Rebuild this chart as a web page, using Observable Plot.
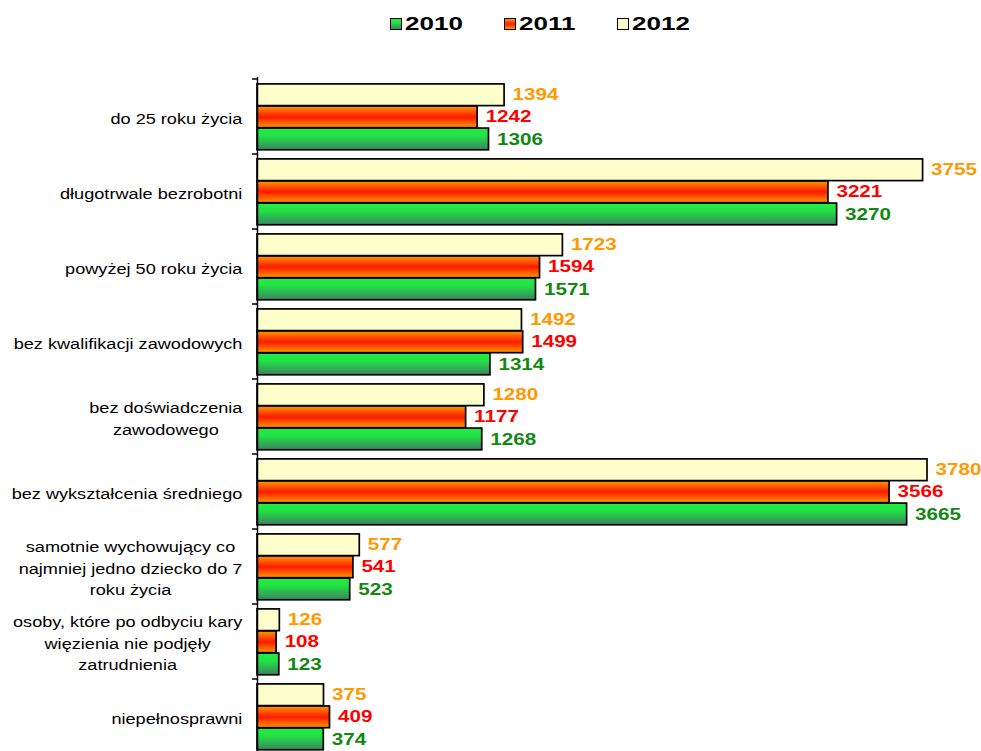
<!DOCTYPE html>
<html><head><meta charset="utf-8">
<script src="https://cdn.jsdelivr.net/npm/d3@7"></script>
<script src="https://cdn.jsdelivr.net/npm/@observablehq/plot@0.6"></script>
<style>
html,body{margin:0;padding:0;background:#fff;overflow:hidden;}
#wrap{position:relative;width:981px;height:751px;}
#legend{position:absolute;top:13px;left:390px;height:22px;display:flex;align-items:center;font-family:"Liberation Sans",Arial,sans-serif;font-weight:bold;font-size:19px;color:#000;}
.item{display:flex;align-items:center;width:113.5px;}
.sw{width:10px;height:10px;border:1.6px solid #000;margin-right:3px;}
.lab{display:inline-block;transform:scaleX(1.37);transform-origin:left center;line-height:22px;}
#chart{position:absolute;top:0;left:0;}
</style></head>
<body>
<svg width="0" height="0" style="position:absolute">
  <defs>
    <linearGradient id="g2010" x1="0" y1="0" x2="0" y2="1">
      <stop offset="0" stop-color="#1ff03f"/>
      <stop offset="0.35" stop-color="#22e244"/>
      <stop offset="1" stop-color="#3b8363"/>
    </linearGradient>
    <linearGradient id="g2011" x1="0" y1="0" x2="0" y2="1">
      <stop offset="0" stop-color="#ff9900"/>
      <stop offset="0.5" stop-color="#ff1a00"/>
      <stop offset="1" stop-color="#ff9900"/>
    </linearGradient>
    <linearGradient id="g2012" x1="0" y1="0" x2="0" y2="1">
      <stop offset="0" stop-color="#ffffcc"/>
      <stop offset="1" stop-color="#ffffcc"/>
    </linearGradient>
  </defs>
</svg>
<div id="wrap">
  <div id="chart"></div>
  <div id="legend"></div>
</div>
<script>
// ---- data ----
const categories = [
  "do 25 roku życia",
  "długotrwale bezrobotni",
  "powyżej 50 roku życia",
  "bez kwalifikacji zawodowych",
  "bez doświadczenia\nzawodowego",
  "bez wykształcenia średniego",
  "samotnie wychowujący co\nnajmniej jedno dziecko do 7\nroku życia",
  "osoby, które po odbyciu kary\nwięzienia nie podjęły\nzatrudnienia",
  "niepełnosprawni"
];
const years = ["2010", "2011", "2012"];
const values2010 = [1306, 3270, 1571, 1314, 1268, 3665, 523, 123, 374];
const values2011 = [1242, 3221, 1594, 1499, 1177, 3566, 541, 108, 409];
const values2012 = [1394, 3755, 1723, 1492, 1280, 3780, 577, 126, 375];

// ---- styles ----
const fills = {"2010": "url(#g2010)", "2011": "url(#g2011)", "2012": "url(#g2012)"};
const swatchCss = {
  "2010": "linear-gradient(#1ff03f,#22e244 35%,#3b8363)",
  "2011": "linear-gradient(#ff9900,#ff1a00 50%,#ff9900)",
  "2012": "#ffffcc"
};
const labelColors = {"2010": "#118811", "2011": "#ff0000", "2012": "#ff9900"};
const order = ["2012", "2011", "2010"]; // top to bottom within a group
const seriesValues = {"2010": values2010, "2011": values2011, "2012": values2012};

const W = 981, H = 756, mt = 77, mb = 0.5, ml = 257, mr = 15;
const bw = (H - mt - mb) / categories.length;
const topPad = 0.065 * bw, barH = 0.293 * bw;

const catFont = 15, catScale = 1.21, valFont = 16, valScale = 1.29;

// measure category label blocks
const ctx = document.createElement("canvas").getContext("2d");
ctx.font = `${catFont}px "Liberation Sans", Arial, sans-serif`;
const blockWidth = c => Math.max(...c.split("\n").map(s => ctx.measureText(s).width)) * catScale;

const marks = [];
order.forEach((yr, k) => {
  const data = categories.map((c, i) => ({cat: c, value: seriesValues[yr][i]}));
  const insetTop = topPad + k * barH;
  const insetBottom = bw - insetTop - barH;
  marks.push(Plot.barX(data, {
    x: "value", y: "cat", fill: fills[yr], stroke: "#000", strokeWidth: 1.7,
    insetTop, insetBottom
  }));
  marks.push(Plot.text(data, {
    x: "value", y: "cat", text: d => String(d.value), textAnchor: "start",
    dx: 8, dy: insetTop + barH / 2 - bw / 2, fill: labelColors[yr],
    fontWeight: "bold", fontSize: valFont, className: "vallab",
    fontFamily: '"Liberation Sans", Arial, sans-serif'
  }));
});
marks.push(Plot.ruleX([0], {stroke: "#000", strokeWidth: 1.5}));
// band-edge ticks on the category axis
marks.push((index, scales) => {
  const y = scales.y, x0 = scales.x(0);
  const g = d3.create("svg:g").attr("stroke", "#000").attr("stroke-width", 1.5);
  const edges = categories.map(c => y(c));
  edges.push(y(categories[categories.length - 1]) + y.bandwidth());
  for (const e of edges) g.append("line").attr("x1", x0 - 5).attr("x2", x0).attr("y1", e).attr("y2", e);
  return g.node();
});
// category labels: lines centred on each other, block right-aligned
categories.forEach(c => {
  marks.push(Plot.text([c], {
    x: 0, y: d => d, text: d => d, textAnchor: "middle",
    dx: -(15 + blockWidth(c) / 2), lineHeight: 1.43,
    fontSize: catFont, fill: "#000", className: "catlab",
    fontFamily: '"Liberation Sans", Arial, sans-serif'
  }));
});

const chart = Plot.plot({
  width: W, height: H,
  marginTop: mt, marginBottom: mb, marginLeft: ml, marginRight: mr,
  x: {domain: [0, 4000], axis: null},
  y: {domain: categories, padding: 0, axis: null},
  style: {background: "#fff", overflow: "visible"},
  marks
});

function stretch(cls, s) {
  d3.select(chart).selectAll(`g.${cls} text`).each(function () {
    const t = this.getAttribute("transform");
    if (t) this.setAttribute("transform", `${t} scale(${s},1)`);
  });
}
stretch("catlab", catScale);
stretch("vallab", valScale);

document.getElementById("chart").appendChild(chart);

// legend
const legend = d3.select("#legend");
years.forEach(yr => {
  const it = legend.append("div").attr("class", "item");
  it.append("div").attr("class", "sw").style("background", swatchCss[yr]);
  it.append("span").attr("class", "lab").text(yr);
});
</script>
</body></html>
